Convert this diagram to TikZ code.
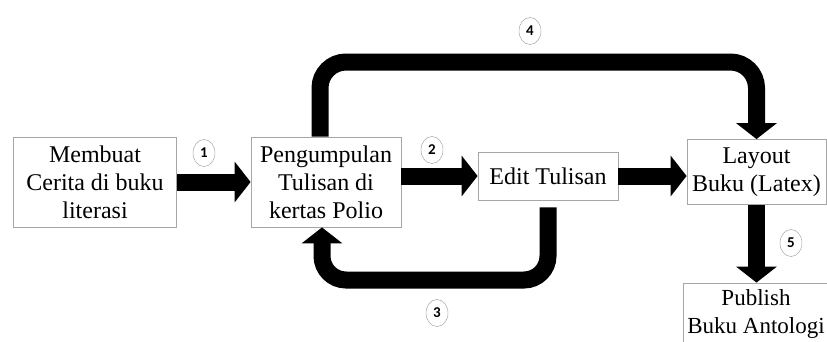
\documentclass[tikz,border=0pt]{standalone}
\usepackage{fontspec}
\setmainfont{Liberation Serif}
\newfontfamily\numfont{Carlito}
\usepackage{tikz}
\usetikzlibrary{arrows.meta,shapes.geometric}

\begin{document}
\begin{tikzpicture}[x=1pt,y=-1pt,
        box/.style={draw=gray!70, line width=0.8pt, align=center, inner sep=0pt,
            font=\fontsize{24}{28}\selectfont},
        flow/.style={line width=17pt, -{Triangle[length=16pt,width=40pt]}},
        num/.style={draw=gray!80, ellipse, minimum width=22pt, minimum height=27pt,
            inner sep=0pt, font=\numfont\bfseries\fontsize{15}{15}\selectfont}]
        \clip (0,0) rectangle (827,341);
        \fill[white] (0,0) rectangle (827,341);

        \node[box, minimum width=163, minimum height=90] (cerita) at (95,182) {Membuat\\Cerita di buku\\literasi};
        \node[box, minimum width=150, minimum height=90] (pengumpulan) at (326,182) {Pengumpulan\\Tulisan di\\kertas Polio};
        \node[box, minimum width=140, minimum height=48] (edit) at (548,176) {Edit Tulisan};
        \node[box, minimum width=139, minimum height=65] (layout) at (756.5,172) {Layout\\Buku (Latex)};
        \node[box, minimum width=146, minimum height=62, font=\fontsize{23}{28}\selectfont] (publish) at (756,314) {Publish\\Buku Antologi};

        \draw[flow] (cerita.east) -- (pengumpulan.west); % 1
        \draw[flow] (pengumpulan.east |- edit.west) -- (edit.west); % 2
        \draw[flow, rounded corners=24pt] ([yshift=-7pt]edit.south) |- (430,280) -| ([xshift=-4pt]pengumpulan.south); % 3
        \draw[flow, rounded corners=26pt] ([xshift=-6pt]pengumpulan.north) |- (530,62) -| (layout.north); % 4
        \draw[flow] (edit.east) -- (edit.east -| layout.west);
        \draw[flow] (layout.south) -- (layout.south |- publish.north); % 5

        \node[num] (n1) at (204,153) {1};
        \node[num] (n2) at (432,150) {2};
        \node[num] (n3) at (437,313) {3};
        \node[num] (n4) at (530,31) {4};
        \node[num] (n5) at (791,243) {5};
\end{tikzpicture}
\end{document}
